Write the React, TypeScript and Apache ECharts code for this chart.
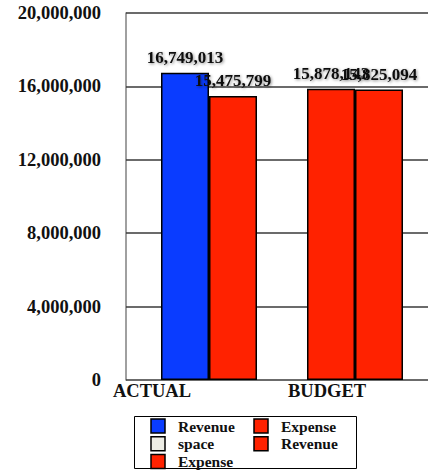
import React, { useEffect, useRef } from "react";
import * as echarts from "echarts";

const categories = ["ACTUAL", "BUDGET"];
const firstBarValues = [16749013, 15878143];
const secondBarValues = [15475799, 15825094];
const firstBarColors = ["#0a3cff", "#ff2200"];
const secondBarColors = ["#ff2200", "#ff2200"];
const yMin = 0;
const yMax = 20000000;
const yInterval = 4000000;
const legendNames = ["Revenue", "space", "Expense", "Expense", "Revenue"];
const legendColors = ["#0a3cff", "#ecece4", "#ff2200", "#ff2200", "#ff2200"];

const FONT = "'Liberation Serif', 'Times New Roman', serif";
const fmt = (v: number) => v.toLocaleString("en-US");

export default function App() {
  const ref = useRef<HTMLDivElement>(null);
  useEffect(() => {
    if (!ref.current) return;
    const chart = echarts.init(ref.current, undefined, { renderer: "svg" });
    const labelShift = [114, 56];
    const valueLabel = {
      show: true,
      position: "top",
      distance: 7,
      formatter: (p: any) => fmt(p.value),
      fontFamily: FONT,
      fontWeight: "bold",
      fontSize: 17,
      color: "#111",
      textShadowColor: "rgba(0,0,0,0.45)",
      textShadowBlur: 3,
      textShadowOffsetX: 1,
      textShadowOffsetY: 1,
    };
    const barItem = { borderColor: "#000", borderWidth: 1.5 };

    const legendGraphic: any[] = [
      {
        type: "rect",
        shape: { x: 134.5, y: 416.5, width: 222, height: 52 },
        style: { fill: "#fff", stroke: "#000", lineWidth: 1 },
      },
    ];
    legendNames.forEach((name, i) => {
      const col = i < 3 ? 0 : 1;
      const row = i < 3 ? i : i - 3;
      const sx = col === 0 ? 151 : 254;
      const sy = 419 + row * 17.7;
      legendGraphic.push({
        type: "rect",
        shape: { x: sx, y: sy, width: 14, height: 14 },
        style: { fill: legendColors[i], stroke: "#000", lineWidth: 1.5 },
      });
      legendGraphic.push({
        type: "text",
        x: sx + 27,
        y: sy + 7,
        style: {
          text: name,
          fontFamily: FONT,
          fontWeight: "bold",
          fontSize: 15.5,
          fill: "#111",
          verticalAlign: "middle",
          align: "left",
        },
      });
    });

    chart.setOption({
      animation: false,
      backgroundColor: "#fff",
      grid: { left: 136, right: 1, top: 13, bottom: 91 },
      xAxis: {
        type: "category",
        data: categories.map((c, i) => ({
          value: c,
          textStyle: { padding: [0, labelShift[i], 0, 0] },
        })),
        axisLine: { show: false },
        axisTick: { show: false },
        axisLabel: {
          margin: 1,
          fontFamily: FONT,
          fontWeight: "bold",
          fontSize: 18.5,
          color: "#111",
        },
      },
      yAxis: {
        type: "value",
        min: yMin,
        max: yMax,
        interval: yInterval,
        offset: 10,
        axisLine: { show: true, lineStyle: { color: "#808080", width: 1.5 } },
        axisTick: { show: true, inside: true, length: 10, lineStyle: { color: "#3a3a3a", width: 1.5 } },
        splitLine: { show: true, lineStyle: { color: "#3a3a3a", width: 1.5 } },
        axisLabel: {
          margin: 25,
          formatter: (v: number) => fmt(v),
          fontFamily: FONT,
          fontWeight: "bold",
          fontSize: 18.5,
          color: "#111",
        },
      },
      series: [
        {
          type: "bar",
          barWidth: 48,
          barGap: "0%",
          data: firstBarValues.map((v, i) => ({ value: v, itemStyle: { color: firstBarColors[i] } })),
          itemStyle: barItem,
          label: valueLabel,
        },
        {
          type: "bar",
          barWidth: 48,
          barGap: "0%",
          data: secondBarValues.map((v, i) => ({ value: v, itemStyle: { color: secondBarColors[i] } })),
          itemStyle: barItem,
          label: valueLabel,
        },
      ],
      graphic: legendGraphic,
    });
    return () => chart.dispose();
  }, []);
  return (
    <div
      ref={ref}
      style={{ position: "fixed", left: 0, top: 0, width: 429, height: 471 }}
    />
  );
}
